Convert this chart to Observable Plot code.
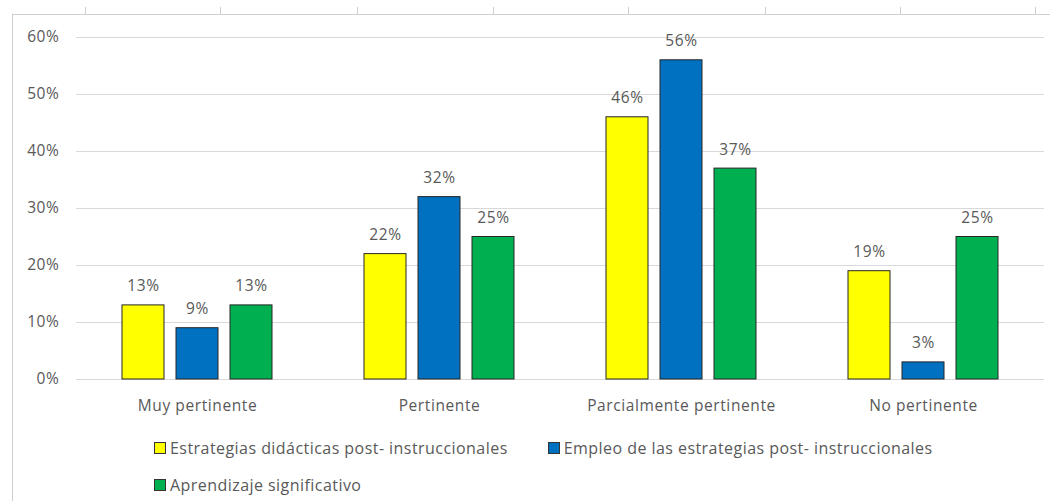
<!DOCTYPE html>
<html>
<head>
<meta charset="utf-8">
<script src="https://cdn.jsdelivr.net/npm/d3@7"></script>
<script src="https://cdn.jsdelivr.net/npm/@observablehq/plot@0.6"></script>
<style>
  html, body { margin: 0; padding: 0; background: #fff; }
  #wrap { position: relative; width: 1050px; height: 501px; overflow: hidden; font-family: "Open Sans", sans-serif; }
  #frame { position: absolute; left: 12px; top: 14px; right: -2px; bottom: -2px; border-left: 1px solid #cfcfcf; border-top: 1px solid #cfcfcf; pointer-events: none; }
  .tk { position: absolute; top: 7px; width: 1px; height: 8px; background: #cfcfcf; }
  #chart { position: absolute; left: 0; top: 0; }
  #legend { position: absolute; left: 154px; top: 437px; width: 860px; display: flex; flex-wrap: wrap; column-gap: 40px; row-gap: 15px;
            font-family: "Open Sans", sans-serif; font-size: 16px; letter-spacing: 0.45px; line-height: 22px; color: #595959; }
  .item { display: flex; align-items: center; }
  .sw { width: 12px; height: 12px; border: 1px solid #333; margin-right: 4px; box-sizing: border-box; }
</style>
</head>
<body>
<div id="wrap">
  <div id="chart"></div>
  <div id="frame"></div>
  <div id="legend"></div>
</div>
<script>
const categories = ["Muy pertinente", "Pertinente", "Parcialmente pertinente", "No pertinente"];
const seriesNames = [
  "Estrategias didácticas post- instruccionales",
  "Empleo de las estrategias post- instruccionales",
  "Aprendizaje significativo"
];
const seriesColors = ["#FFFF00", "#0070C0", "#00B050"];
const estrategias = [0.13, 0.22, 0.46, 0.19];
const empleo = [0.09, 0.32, 0.56, 0.03];
const aprendizaje = [0.13, 0.25, 0.37, 0.25];
const yTicks = [0, 0.1, 0.2, 0.3, 0.4, 0.5, 0.6];
const topTickX = [85, 220, 357, 493, 628, 765, 900, 1035];

const seriesValues = [estrategias, empleo, aprendizaje];
const data = [];
categories.forEach((c, i) => {
  seriesNames.forEach((s, j) => data.push({category: c, series: s, value: seriesValues[j][i]}));
});

const fmt = d3.format(".0%");

const chart = Plot.plot({
  width: 1050,
  height: 420,
  marginLeft: 76,
  marginRight: 6,
  marginTop: 37,
  marginBottom: 41,
  style: {fontFamily: "'Open Sans', sans-serif", fontSize: "15.5px", letterSpacing: "0.6px", color: "#595959", background: "transparent"},
  fx: {domain: categories, padding: 0, label: null, tickSize: 0, tickPadding: 20},
  x: {domain: seriesNames, paddingInner: 0.22, paddingOuter: 0.85, axis: null},
  y: {domain: [0, 0.6], ticks: yTicks, tickFormat: fmt, label: null, tickSize: 0, tickPadding: 17},
  color: {domain: seriesNames, range: seriesColors},
  marks: [
    Plot.ruleY(yTicks, {stroke: "#d9d9d9", strokeWidth: 1}),
    Plot.barY(data, {fx: "category", x: "series", y: "value", fill: "series", stroke: "#262626", strokeWidth: 1}),
    Plot.text(data, {fx: "category", x: "series", y: "value", text: d => fmt(d.value), dy: -14, lineAnchor: "bottom", fill: "#595959", fontSize: 15.5})
  ]
});
document.getElementById("chart").appendChild(chart);

const wrap = document.getElementById("wrap");
topTickX.forEach(x => {
  const t = document.createElement("div");
  t.className = "tk";
  t.style.left = x + "px";
  wrap.appendChild(t);
});

const legend = document.getElementById("legend");
seriesNames.forEach((s, j) => {
  const it = document.createElement("div");
  it.className = "item";
  const sw = document.createElement("span");
  sw.className = "sw";
  sw.style.background = seriesColors[j];
  const lb = document.createElement("span");
  lb.textContent = s;
  it.appendChild(sw);
  it.appendChild(lb);
  legend.appendChild(it);
});
</script>
</body>
</html>
